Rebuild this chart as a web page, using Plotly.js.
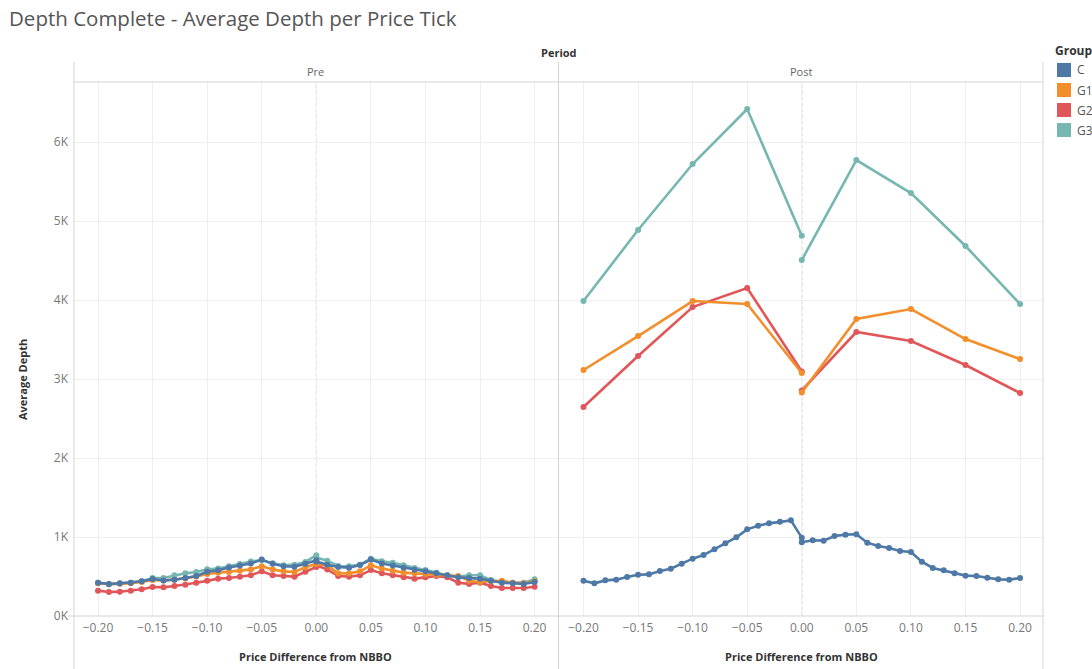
<!DOCTYPE html>
<html>
<head>
<meta charset="utf-8">
<script src="https://cdn.plot.ly/plotly-3.0.1.min.js"></script>
<style>html,body{margin:0;padding:0;background:#fff;}#chart{width:1092px;height:669px;}</style>
</head>
<body>
<div id="chart"></div>
<script>
// ---- Data ----
const groups = ['C', 'G1', 'G2', 'G3'];
const colors = {C: '#4e79a7', G1: '#f28e2b', G2: '#e15759', G3: '#76b7b2'};
const xTickVals = [-0.20, -0.15, -0.10, -0.05, 0.00, 0.05, 0.10, 0.15, 0.20];
const yTickVals = [0, 1000, 2000, 3000, 4000, 5000, 6000];
const yTickText = ['0K', '1K', '2K', '3K', '4K', '5K', '6K'];

const xNegFine = [-0.20,-0.19,-0.18,-0.17,-0.16,-0.15,-0.14,-0.13,-0.12,-0.11,-0.10,-0.09,-0.08,-0.07,-0.06,-0.05,-0.04,-0.03,-0.02,-0.01,0.00];
const xPosFine = [0.00,0.01,0.02,0.03,0.04,0.05,0.06,0.07,0.08,0.09,0.10,0.11,0.12,0.13,0.14,0.15,0.16,0.17,0.18,0.19,0.20];
const xNegCoarse = [-0.20,-0.15,-0.10,-0.05,0.00];
const xPosCoarse = [0.00,0.05,0.10,0.15,0.20];

// Pre period
const preC_neg  = [422,405,414,422,439,468,450,460,481,506,560,580,615,640,665,715,660,630,625,660,705];
const preC_pos  = [690,650,620,612,645,715,665,640,610,585,565,540,515,490,480,473,447,422,414,405,430];
const preG1_neg = [414,405,408,414,430,455,450,460,475,500,532,549,557,574,590,630,590,565,557,616,660];
const preG1_pos = [660,641,540,540,565,641,600,574,549,540,532,523,515,506,447,430,439,447,422,414,439];
const preG2_neg = [321,304,308,321,338,367,363,380,397,420,445,473,481,498,515,565,515,506,498,560,620];
const preG2_pos = [640,590,506,498,515,582,540,515,489,473,489,506,489,422,405,422,380,355,355,355,371];
const preG3_neg = [420,400,410,420,440,481,481,515,540,557,591,600,630,658,690,705,667,641,650,684,770];
const preG3_pos = [740,700,633,630,650,726,692,675,641,608,582,549,506,498,515,515,456,430,422,422,464];

// Post period
const postC_neg  = [447,414,451,460,494,523,527,570,599,662,726,772,844,920,996,1097,1143,1173,1194,1211,992];
const postC_pos  = [933,958,954,1013,1030,1034,928,886,861,823,810,688,608,578,540,511,506,485,464,460,481];
const postG1_neg = [3114,3544,3987,3949,3076];
const postG1_pos = [2830,3759,3886,3506,3253];
const postG2_neg = [2646,3291,3911,4152,3095];
const postG2_pos = [2855,3595,3481,3177,2823];
const postG3_neg = [3987,4886,5722,6418,4814];
const postG3_pos = [4506,5772,5354,4684,3949];

const series = {
  Pre: {
    C:  {xn: xNegFine, yn: preC_neg,  xp: xPosFine, yp: preC_pos},
    G1: {xn: xNegFine, yn: preG1_neg, xp: xPosFine, yp: preG1_pos},
    G2: {xn: xNegFine, yn: preG2_neg, xp: xPosFine, yp: preG2_pos},
    G3: {xn: xNegFine, yn: preG3_neg, xp: xPosFine, yp: preG3_pos}
  },
  Post: {
    C:  {xn: xNegFine,   yn: postC_neg,  xp: xPosFine,   yp: postC_pos},
    G1: {xn: xNegCoarse, yn: postG1_neg, xp: xPosCoarse, yp: postG1_pos},
    G2: {xn: xNegCoarse, yn: postG2_neg, xp: xPosCoarse, yp: postG2_pos},
    G3: {xn: xNegCoarse, yn: postG3_neg, xp: xPosCoarse, yp: postG3_pos}
  }
};

// ---- Traces ----
const drawOrder = ['G3', 'G2', 'G1', 'C'];
const traces = [];
[['Pre', 'x'], ['Post', 'x2']].forEach(([period, xa]) => {
  drawOrder.forEach(g => {
    const s = series[period][g];
    traces.push({
      type: 'scatter', mode: 'lines+markers', name: g,
      x: s.xn.concat([null], s.xp),
      y: s.yn.concat([null], s.yp),
      xaxis: xa, yaxis: 'y',
      line: {color: colors[g], width: 2.6},
      marker: {color: colors[g], size: 6},
      connectgaps: false,
      showlegend: false, hoverinfo: 'skip'
    });
  });
});

const FONT = 'Open Sans, Lato, sans-serif';
const gridC = '#efefef';
const borderC = '#d4d4d4';
// plot-area pixel geometry (for converting legend/header pixel positions to paper coords)
const PL = 74, PW = 969, PB = 616, PH = 534;
const px = v => (v - PL) / PW;
const py = v => (PB - v) / PH;

const xAxisBase = {
  range: [-0.222, 0.221], tickvals: xTickVals, tickformat: '.2f',
  showgrid: true, gridcolor: gridC, zeroline: false, showline: false,
  ticks: '', tickfont: {family: FONT, size: 12, color: '#777'},
  ticklabelstandoff: 3, fixedrange: true
};

const shapes = [
  {type: 'line', xref: 'paper', yref: 'paper', x0: 0, x1: 1, y0: 1, y1: 1, line: {color: borderC, width: 1}},
  {type: 'line', xref: 'paper', yref: 'paper', x0: 0, x1: 0, y0: -0.1, y1: 1.0375, line: {color: borderC, width: 1}},
  {type: 'line', xref: 'paper', yref: 'paper', x0: 0.5, x1: 0.5, y0: -0.1, y1: 1.0375, line: {color: borderC, width: 1}},
  {type: 'line', xref: 'paper', yref: 'paper', x0: 1, x1: 1, y0: -0.1, y1: 1.0375, line: {color: borderC, width: 1}},
  {type: 'line', xref: 'paper', yref: 'paper', x0: -6 / PW, x1: 1, y0: 0, y1: 0, line: {color: borderC, width: 1}},
  {type: 'line', xref: 'x', yref: 'paper', x0: 0, x1: 0, y0: 0, y1: 1, line: {color: '#aaa', width: 1, dash: 'dot'}, layer: 'below'},
  {type: 'line', xref: 'x2', yref: 'paper', x0: 0, x1: 0, y0: 0, y1: 1, line: {color: '#aaa', width: 1, dash: 'dot'}, layer: 'below'}
];

const annotations = [
  {text: '<b>Period</b>', xref: 'paper', yref: 'paper', x: 0.5, y: py(52), xanchor: 'center', yanchor: 'middle', showarrow: false, font: {family: FONT, size: 11, color: '#333'}},
  {text: 'Pre', xref: 'x domain', yref: 'paper', x: 0.5, y: py(72), xanchor: 'center', yanchor: 'middle', showarrow: false, font: {family: FONT, size: 11, color: '#666'}},
  {text: 'Post', xref: 'x2 domain', yref: 'paper', x: 0.5, y: py(72), xanchor: 'center', yanchor: 'middle', showarrow: false, font: {family: FONT, size: 11, color: '#666'}},
  {text: '<b>Price Difference from NBBO</b>', xref: 'x domain', yref: 'paper', x: 0.5, y: py(656), xanchor: 'center', yanchor: 'middle', showarrow: false, font: {family: FONT, size: 11, color: '#333'}},
  {text: '<b>Price Difference from NBBO</b>', xref: 'x2 domain', yref: 'paper', x: 0.5, y: py(656), xanchor: 'center', yanchor: 'middle', showarrow: false, font: {family: FONT, size: 11, color: '#333'}},
  {text: '<b>Average Depth</b>', xref: 'paper', yref: 'paper', x: px(22), y: py(380), xanchor: 'center', yanchor: 'middle', textangle: -90, showarrow: false, font: {family: FONT, size: 11, color: '#333'}},
  // legend title
  {text: '<b>Group</b>', xref: 'paper', yref: 'paper', x: px(1053), y: py(51), xanchor: 'left', yanchor: 'middle', showarrow: false, font: {family: FONT, size: 12, color: '#333'}}
];
// legend rows (swatch + label)
groups.forEach((g, i) => {
  const cy = 70 + i * 20;
  shapes.push({type: 'rect', xref: 'paper', yref: 'paper', x0: px(1057), x1: px(1071), y0: py(cy + 7), y1: py(cy - 7),
               fillcolor: colors[g], line: {width: 0}});
  annotations.push({text: g, xref: 'paper', yref: 'paper', x: px(1075), y: py(cy), xanchor: 'left', yanchor: 'middle',
                    showarrow: false, font: {family: FONT, size: 12, color: '#555'}});
});

const layout = {
  width: 1092, height: 669,
  paper_bgcolor: '#fff', plot_bgcolor: '#fff',
  margin: {l: 74, r: 49, t: 82, b: 53, autoexpand: false},
  font: {family: FONT, color: '#555'},
  title: {text: 'Depth Complete - Average Depth per Price Tick',
          x: 9 / 1092, xanchor: 'left', xref: 'container',
          y: 1 - 19 / 669, yanchor: 'middle', yref: 'container',
          font: {family: FONT, size: 20.5, color: '#555'}},
  xaxis: Object.assign({domain: [0, 0.499], anchor: 'y'}, xAxisBase),
  xaxis2: Object.assign({domain: [0.501, 1], anchor: 'y'}, xAxisBase),
  yaxis: {range: [0, 6760], tickvals: yTickVals, ticktext: yTickText,
          showgrid: true, gridcolor: gridC, zeroline: false, showline: false,
          ticks: '', tickfont: {family: FONT, size: 12, color: '#777'},
          ticklabelstandoff: 5, anchor: 'x', fixedrange: true},
  showlegend: false,
  shapes: shapes,
  annotations: annotations
};

Plotly.newPlot('chart', traces, layout, {displayModeBar: false, staticPlot: true});
</script>
</body>
</html>
